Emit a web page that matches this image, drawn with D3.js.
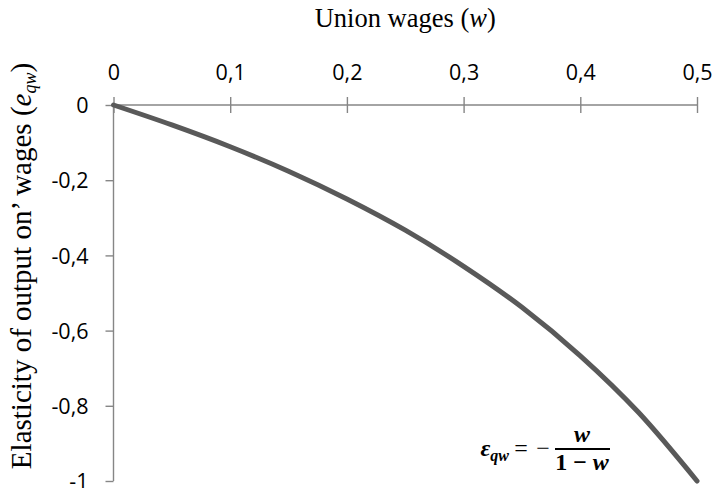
<!DOCTYPE html>
<html>
<head>
<meta charset="utf-8">
<script src="https://cdn.jsdelivr.net/npm/d3@7/dist/d3.min.js"></script>
<style>
  html, body { margin: 0; padding: 0; background: #ffffff; }
  svg { display: block; }
</style>
</head>
<body>
<div id="chart"></div>
<script>
// Union wage share and the resulting elasticity of output with respect to wages
const wages = [0, 0.05, 0.10, 0.15, 0.20, 0.25, 0.30, 0.35, 0.40, 0.45, 0.50];
const elasticity = [0, -0.053, -0.111, -0.176, -0.25, -0.333, -0.429, -0.538, -0.667, -0.818, -1];

const xTicks = [0, 0.1, 0.2, 0.3, 0.4, 0.5];
const yTicks = [0, -0.2, -0.4, -0.6, -0.8, -1];

(function draw() {
  const width = 716, height = 488;
  const plotLeft = 113.5, plotRight = 697, plotTop = 105, plotBottom = 481;

  const axisColor = "#868686";
  const lineColor = "#595959";
  const tickFont = "'Open Sans', sans-serif";
  const serifFont = "'Liberation Serif', 'Times New Roman', serif";

  const fmt = v => String(v).replace(".", ",");

  const svg = d3.select("#chart").append("svg")
    .attr("width", width)
    .attr("height", height);

  const x = d3.scaleLinear().domain([0, 0.5]).range([plotLeft, plotRight]);
  const y = d3.scaleLinear().domain([-1, 0]).range([plotBottom, plotTop]);

  // Horizontal axis along the top, ticks crossing the line
  const xAxis = svg.append("g")
    .attr("transform", `translate(0,${plotTop})`)
    .call(d3.axisTop(x).tickValues(xTicks).tickSize(8).tickFormat(fmt));
  xAxis.select(".domain").attr("stroke", axisColor).attr("stroke-width", 1.4)
    .attr("d", `M${plotLeft},0H${plotRight}`);
  xAxis.selectAll(".tick line")
    .attr("stroke", axisColor).attr("stroke-width", 1.4)
    .attr("y1", -8).attr("y2", 8);
  xAxis.selectAll(".tick text")
    .attr("font-family", tickFont).attr("font-size", 21.5)
    .attr("fill", "#000").attr("y", -25).attr("dy", 0);

  // Vertical axis on the left, ticks outside only
  const yAxis = svg.append("g")
    .attr("transform", `translate(${plotLeft},0)`)
    .call(d3.axisLeft(y).tickValues(yTicks).tickSize(8).tickFormat(fmt));
  yAxis.select(".domain").attr("stroke", axisColor).attr("stroke-width", 1.4)
    .attr("d", `M0,${plotTop}V${plotBottom}`);
  yAxis.selectAll(".tick line").attr("stroke", axisColor).attr("stroke-width", 1.4);
  yAxis.selectAll(".tick text")
    .attr("font-family", tickFont).attr("font-size", 21.5)
    .attr("fill", "#000").attr("x", -25).attr("dy", "0.36em");

  // Elasticity curve
  const pts = wages.map((w, i) => [w, elasticity[i]]);
  svg.append("path")
    .datum(pts)
    .attr("fill", "none")
    .attr("stroke", lineColor)
    .attr("stroke-width", 5)
    .attr("stroke-linecap", "round")
    .attr("d", d3.line().x(d => x(d[0])).y(d => y(d[1])).curve(d3.curveMonotoneX));

  // Axis titles
  const title = svg.append("text")
    .attr("x", (plotLeft + plotRight) / 2)
    .attr("y", 27)
    .attr("text-anchor", "middle")
    .attr("font-family", serifFont)
    .attr("font-size", 26.5)
    .attr("fill", "#000");
  title.append("tspan").text("Union wages (");
  title.append("tspan").attr("font-style", "italic").text("w");
  title.append("tspan").text(")");

  const yTitle = svg.append("text")
    .attr("transform", `translate(31,266) rotate(-90)`)
    .attr("text-anchor", "middle")
    .attr("font-family", serifFont)
    .attr("font-size", 29)
    .attr("fill", "#000");
  yTitle.append("tspan").text("Elasticity of output on\u2019 wages (");
  yTitle.append("tspan").attr("font-style", "italic").text("e");
  yTitle.append("tspan").attr("font-style", "italic").attr("font-size", 18).attr("dy", 5).text("qw");
  yTitle.append("tspan").attr("dy", -5).text(")");

  // Formula annotation
  const fx = 582, fy = 449;
  const f = svg.append("g").attr("font-family", serifFont).attr("fill", "#000");
  const eps = f.append("text")
    .attr("x", 509).attr("y", fy + 7)
    .attr("text-anchor", "end")
    .attr("font-weight", "bold").attr("font-style", "italic")
    .attr("font-size", 24);
  eps.append("tspan").text("\u03b5");
  eps.append("tspan").attr("font-size", 16).attr("dy", 5).text("qw");
  f.append("text").attr("x", 521).attr("y", fy + 7).attr("text-anchor", "middle")
    .attr("font-size", 24).text("=");
  f.append("text").attr("x", 543).attr("y", fy + 7).attr("text-anchor", "middle")
    .attr("font-size", 24).text("\u2212");
  f.append("line")
    .attr("x1", 555).attr("x2", 610).attr("y1", fy).attr("y2", fy)
    .attr("stroke", "#000").attr("stroke-width", 2);
  f.append("text").attr("x", fx).attr("y", fy - 7).attr("text-anchor", "middle")
    .attr("font-weight", "bold").attr("font-style", "italic").attr("font-size", 24).text("w");
  const den = f.append("text").attr("x", fx).attr("y", fy + 21).attr("text-anchor", "middle")
    .attr("font-weight", "bold").attr("font-size", 24);
  den.append("tspan").text("1 \u2212 ");
  den.append("tspan").attr("font-style", "italic").text("w");
})();
</script>
</body>
</html>
